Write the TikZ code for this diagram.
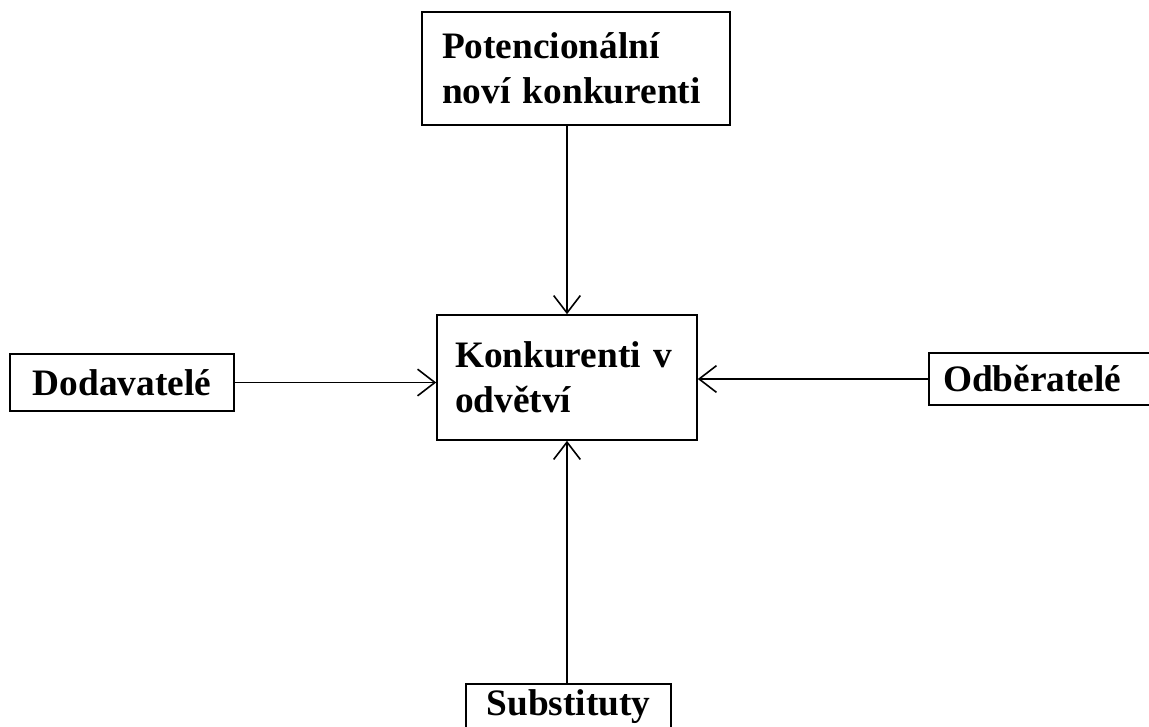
\documentclass[tikz,border=0pt]{standalone}
\usepackage{fontspec}
\setmainfont{Liberation Serif}
\usetikzlibrary{arrows.meta, positioning}

\begin{document}
\begin{tikzpicture}[x=0.75pt, y=-0.75pt,
  force/.style={draw, line width=1.2pt, inner sep=0pt,
    font=\fontsize{28}{33.5}\selectfont\bfseries},
  push/.style={line width=1.2pt, -{Straight Barb[length=13pt, width=20pt]}}]
  \useasboundingbox (0,0) rectangle (1149,726);
  % the five forces
  \node[force, minimum width=231pt, minimum height=84.75pt, text width=201pt, align=left] (entrants) at (576,68.5) {Potencionální\\noví konkurenti};
  \node[force, minimum width=195pt, minimum height=93.75pt, text width=168pt, align=left] (rivals) at (567,377.5) {Konkurenti v\\odvětví};
  \node[force, minimum width=168pt, minimum height=42.75pt, align=center] (suppliers) at (122,382.5) {Dodavatelé};
  \node[force, minimum width=177pt, minimum height=39pt, text width=156pt, align=left] (buyers) at (1047,379) {Odběratelé};
  \node[force, anchor=north, minimum width=153.75pt, text height=24pt, text depth=20pt, align=center] (substitutes) at (568.5,683) {Substituty};
  % pressures on the industry
  \draw[push] (entrants.south -| rivals.north) -- (rivals.north);
  \draw[push] (suppliers.east) -- (rivals.west |- suppliers.east);
  \draw[push] (buyers.west) -- (rivals.east |- buyers.west);
  \draw[push] (substitutes.north -| rivals.south) -- (rivals.south);
\end{tikzpicture}
\end{document}
